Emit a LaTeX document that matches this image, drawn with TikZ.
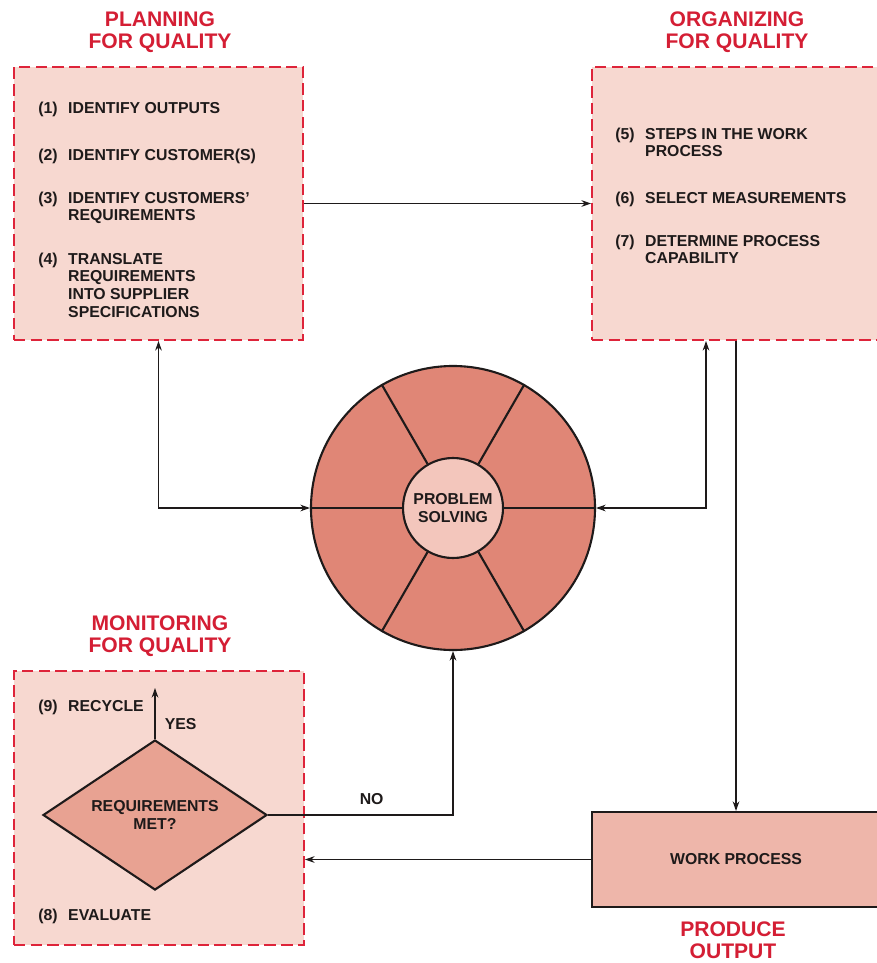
\documentclass[tikz,border=0pt]{standalone}
\usepackage{fontspec}
\setmainfont{Liberation Sans}
\usetikzlibrary{shapes.geometric,arrows.meta}
\definecolor{boxpink}{RGB}{247,216,208}
\definecolor{ringred}{RGB}{224,134,118}
\definecolor{hubpink}{RGB}{243,198,188}
\definecolor{diapink}{RGB}{232,162,146}
\definecolor{workpink}{RGB}{238,182,170}
\definecolor{titlered}{RGB}{212,30,52}
\definecolor{dashred}{RGB}{222,36,58}
\definecolor{inkgray}{RGB}{30,26,26}
\newcommand{\stepno}[1]{\makebox[17pt][l]{(#1)}}
\newcommand{\stepin}{\hspace*{17pt}}

\begin{document}
\begin{tikzpicture}[
	>={Stealth[length=5.5pt,width=3.8pt]},
	font=\fontsize{9}{10}\selectfont\bfseries, text=inkgray,
	phase/.style={draw=dashred, fill=boxpink, line width=1.1pt, dash pattern=on 6.5pt off 3pt, inner sep=0pt},
	heading/.style={text=titlered, align=center, font=\fontsize{12}{12.6}\selectfont\bfseries},
	steptext/.style={anchor=north west, inner sep=0pt, align=left},
	flow/.style={line width=0.6pt, draw=inkgray},
	thick line/.style={draw=inkgray, line width=1.2pt}
	]
		\useasboundingbox (0,0) rectangle (17.52,-19.26);
		\node[phase, minimum width=5.78cm, minimum height=5.46cm] (plan) at (3.17,-4.07) {};
		\node[phase, minimum width=5.76cm, minimum height=5.46cm] (org) at (14.72,-4.07) {};
		\node[phase, minimum width=5.80cm, minimum height=5.48cm] (mon) at (3.18,-16.16) {};
		\node[heading] (plantitle) at (3.20,-0.65) {PLANNING\\FOR QUALITY};
		\node[heading] (orgtitle) at (14.74,-0.65) {ORGANIZING\\FOR QUALITY};
		\node[heading] (montitle) at (3.20,-12.73) {MONITORING\\FOR QUALITY};
		\node[heading] (worktitle) at (14.66,-18.80) {PRODUCE\\OUTPUT};
		\node[steptext] (s1) at (0.76,-2.03) {\stepno{1}IDENTIFY OUTPUTS};
		\node[steptext] (s2) at (0.76,-2.97) {\stepno{2}IDENTIFY CUSTOMER(S)};
		\node[steptext] (s3) at (0.76,-3.83) {\stepno{3}IDENTIFY CUSTOMERS'\\\stepin REQUIREMENTS};
		\node[steptext] (s4) at (0.76,-5.05) {\stepno{4}TRANSLATE\\\stepin REQUIREMENTS\\\stepin INTO SUPPLIER\\\stepin SPECIFICATIONS};
		\node[steptext] (s5) at (12.30,-2.55) {\stepno{5}STEPS IN THE WORK\\\stepin PROCESS};
		\node[steptext] (s6) at (12.30,-3.83) {\stepno{6}SELECT MEASUREMENTS};
		\node[steptext] (s7) at (12.30,-4.69) {\stepno{7}DETERMINE PROCESS\\\stepin CAPABILITY};
		\node[steptext] (s9) at (0.76,-13.99) {\stepno{9}RECYCLE};
		\node[steptext] (s8) at (0.76,-18.17) {\stepno{8}EVALUATE};
		\node[circle, thick line, fill=ringred, minimum size=5.68cm, inner sep=0pt] (wheel) at (9.06,-10.16) {};
		\node[circle, thick line, fill=hubpink, minimum size=2.0cm, inner sep=0pt, align=center] (hub) at (wheel.center) {PROBLEM\\SOLVING};
		\foreach \a in {0,60,...,300}
			\draw[thick line] (hub.\a) -- (wheel.\a);
		\node[diamond, thick line, fill=diapink, aspect=1.5, minimum width=4.48cm, minimum height=3cm, inner sep=0pt, align=center] (req) at (3.10,-16.30) {REQUIREMENTS\\MET?};
		\node[draw=inkgray, line width=1.2pt, fill=workpink, minimum width=5.76cm, minimum height=1.9cm] (work) at (14.72,-17.19) {WORK PROCESS};
		\coordinate (recycle) at (3.10,-13.76);
		\draw[flow,->] (plan.east) -- (org.west);
		\draw[flow,<->] (plan.south) |- (wheel.west);
		\draw[flow,<->] ([xshift=-0.6cm]org.south) |- (wheel.east);
		\draw[flow,->] (org.south) -- (work.north);
		\draw[flow,->] (work.west) -- (work.west -| mon.east);
		\draw[flow,->] (req.east) -| node[pos=0.28, above=2pt] {NO} (wheel.south);
		\draw[flow,->] (req.north) -- node[pos=0.3, right=2pt] {YES} (recycle);
\end{tikzpicture}
\end{document}
